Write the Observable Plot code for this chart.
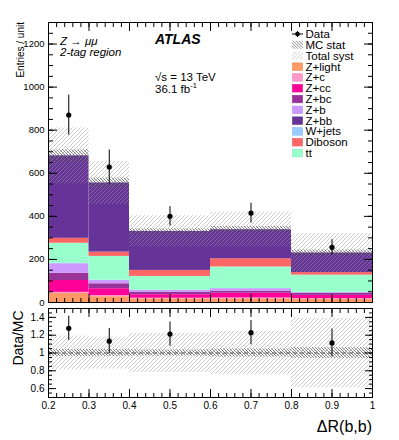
<!DOCTYPE html>
<html><head><meta charset="utf-8">
<script src="https://cdn.jsdelivr.net/npm/d3@7"></script>
<script src="https://cdn.jsdelivr.net/npm/@observablehq/plot@0.6"></script>
<style>
body{margin:0;background:#fff;}
#wrap{position:relative;width:399px;height:440px;font-family:"Liberation Sans",Arial,Helvetica,sans-serif;color:#000;overflow:hidden;}
#wrap svg{position:absolute;left:0;overflow:visible;}
</style></head><body>
<svg width="0" height="0" style="position:absolute">
  <defs>
    <pattern id="systHatch" patternUnits="userSpaceOnUse" width="4" height="4">
      <path d="M-1,1 l2,-2 M0,4 l4,-4 M3,5 l2,-2" stroke="#9a9a9a" stroke-opacity="0.5" stroke-width="1"/>
    </pattern>
    <pattern id="statHatch" patternUnits="userSpaceOnUse" width="3" height="3">
      <path d="M-1,2 l2,2 M0,0 l3,3 M2,-1 l2,2" stroke="#555" stroke-opacity="0.75" stroke-width="0.9"/>
    </pattern>
  </defs>
</svg>
<div id="wrap"></div>
<script>
// ---- data ----
const binLo = [0.2, 0.3, 0.4, 0.6, 0.8];
const binHi = [0.3, 0.4, 0.6, 0.8, 1.0];
// stack order bottom -> top
const stackOrder = ["Z+light", "Z+c", "Z+cc", "Z+bc", "Z+b", "W+jets", "tt", "Diboson", "Z+bb"];
const legendOrder = ["Z+light", "Z+c", "Z+cc", "Z+bc", "Z+b", "Z+bb", "W+jets", "Diboson", "tt"];
const compColors = {"Z+light": "#ff9966", "Z+c": "#ff99cc", "Z+cc": "#ff0099", "Z+bc": "#993399",
  "Z+b": "#cc99ff", "Z+bb": "#663399", "W+jets": "#99ccff", "Diboson": "#ff6666", "tt": "#99ffcc"};
const zLight  = [42, 27, 17, 17, 15];
const zC      = [5, 5, 3, 4, 3];
const zCC     = [55, 32, 16, 22, 15];
const zBC     = [34, 23, 12, 10, 10];
const zB      = [44, 15, 8, 11, 3];
const wJets   = [2, 2, 1, 1, 1];
const ttbar   = [93, 110, 64, 100, 80];
const diboson = [23, 20, 28, 38, 12];
const zBB     = [383, 321, 181, 135, 91];
const dataVal = [870, 629, 400, 415, 256];
const dataErr = [93, 79, 45, 46, 36];
const systFrac = [0.19, 0.18, 0.22, 0.24, 0.39];
const statFrac = [0.04, 0.04, 0.035, 0.045, 0.06];
const yTicksMain = [0, 200, 400, 600, 800, 1000, 1200];
const yTicksRatio = [0.6, 0.8, 1, 1.2, 1.4];
const xTicks = [0.2, 0.3, 0.4, 0.5, 0.6, 0.7, 0.8, 0.9, 1];

const series = {"Z+light": zLight, "Z+c": zC, "Z+cc": zCC, "Z+bc": zBC, "Z+b": zB,
  "W+jets": wJets, "tt": ttbar, "Diboson": diboson, "Z+bb": zBB};

// ---- derived tables ----
const stackRows = [];
const totals = binLo.map(() => 0);
binLo.forEach((lo, i) => {
  let acc = 0;
  for (const c of stackOrder) {
    const v = series[c][i];
    stackRows.push({x1: lo, x2: binHi[i], y1: acc, y2: acc + v, comp: c});
    acc += v;
  }
  totals[i] = acc;
});
const bins = binLo.map((lo, i) => ({
  x1: lo, x2: binHi[i], xc: (lo + binHi[i]) / 2, tot: totals[i],
  sLo: totals[i] * (1 - systFrac[i]), sHi: totals[i] * (1 + systFrac[i]),
  tLo: totals[i] * (1 - statFrac[i]), tHi: totals[i] * (1 + statFrac[i]),
  rsLo: 1 - systFrac[i], rsHi: 1 + systFrac[i], rtLo: 1 - statFrac[i], rtHi: 1 + statFrac[i],
  d: dataVal[i], dLo: dataVal[i] - dataErr[i], dHi: dataVal[i] + dataErr[i],
  r: dataVal[i] / totals[i], rLo: (dataVal[i] - dataErr[i]) / totals[i], rHi: (dataVal[i] + dataErr[i]) / totals[i]
}));

const xMinor = d3.range(10, 51).map(i => i / 50);
const yMinorMain = d3.range(0, 27).map(i => i * 50);
const yMinorRatio = d3.range(0, 21).map(i => 0.5 + i * 0.05);

const font = '"Liberation Sans", Arial, Helvetica, sans-serif';

function frameTicks(yMajor, yMinor, maj, min) {
  return [
    Plot.axisY({anchor: "left", ticks: yMajor, tickSize: -maj, fill: "none", label: null}),
    Plot.axisY({anchor: "left", ticks: yMinor, tickSize: -min, fill: "none", label: null}),
    Plot.axisY({anchor: "right", ticks: yMajor, tickSize: -maj, fill: "none", label: null}),
    Plot.axisY({anchor: "right", ticks: yMinor, tickSize: -min, fill: "none", label: null}),
    Plot.axisX({anchor: "bottom", ticks: xTicks, tickSize: -8, fill: "none", label: null}),
    Plot.axisX({anchor: "bottom", ticks: xMinor, tickSize: -4, fill: "none", label: null}),
    Plot.axisX({anchor: "top", ticks: xTicks, tickSize: -8, fill: "none", label: null}),
    Plot.axisX({anchor: "top", ticks: xMinor, tickSize: -4, fill: "none", label: null}),
    Plot.frame({stroke: "black", strokeWidth: 1})
  ];
}

const main = Plot.plot({
  width: 399, height: 305,
  marginLeft: 48, marginRight: 27, marginTop: 22, marginBottom: 3,
  style: {fontFamily: font, fontSize: "9.5px", background: "transparent"},
  x: {domain: [0.2, 1]},
  y: {domain: [0, 1300]},
  color: {domain: stackOrder, range: stackOrder.map(c => compColors[c])},
  marks: [
    Plot.rect(stackRows, {x1: "x1", x2: "x2", y1: "y1", y2: "y2", fill: "comp"}),
    Plot.rect(bins, {x1: "x1", x2: "x2", y1: "sLo", y2: "sHi", fill: "url(#systHatch)"}),
    Plot.rect(bins, {x1: "x1", x2: "x2", y1: "tLo", y2: "tHi", fill: "url(#statHatch)"}),
    Plot.ruleX(bins, {x: "xc", y1: "dLo", y2: "dHi", stroke: "black", strokeWidth: 1}),
    Plot.dot(bins, {x: "xc", y: "d", r: 2.6, fill: "black", stroke: "none"}),
    Plot.axisY({anchor: "left", ticks: yTicksMain, tickSize: 0, tickPadding: 4, label: null, tickFormat: d => String(d)}),
    ...frameTicks(yTicksMain, yMinorMain, 9, 5)
  ]
});

const ratio = Plot.plot({
  width: 399, height: 135,
  marginLeft: 48, marginRight: 27, marginTop: 3, marginBottom: 43,
  style: {fontFamily: font, fontSize: "10px", background: "transparent"},
  x: {domain: [0.2, 1]},
  y: {domain: [0.5, 1.5]},
  marks: [
    Plot.rect(bins, {x1: "x1", x2: "x2", y1: "rsLo", y2: "rsHi", fill: "url(#systHatch)"}),
    Plot.rect(bins, {x1: "x1", x2: "x2", y1: "rtLo", y2: "rtHi", fill: "url(#statHatch)"}),
    Plot.ruleY([1], {stroke: "#555", strokeDasharray: "4,3", strokeWidth: 1}),
    Plot.ruleX(bins, {x: "xc", y1: "rLo", y2: "rHi", stroke: "black", strokeWidth: 1}),
    Plot.dot(bins, {x: "xc", y: "r", r: 2.6, fill: "black", stroke: "none"}),
    Plot.axisY({anchor: "left", ticks: yTicksRatio, tickSize: 0, tickPadding: 4, label: null, tickFormat: d => String(d)}),
    Plot.axisX({anchor: "bottom", ticks: xTicks, tickSize: 0, tickPadding: 4, label: null, tickFormat: d => String(d)}),
    ...frameTicks(yTicksRatio, yMinorRatio, 8, 4)
  ]
});

const wrap = document.getElementById("wrap");
main.style.top = "0px";
ratio.style.top = "305px";
wrap.appendChild(main);
wrap.appendChild(ratio);

// ---- overlay: texts and legend ----
const ov = d3.select(wrap).append("svg")
  .attr("width", 399).attr("height", 440)
  .style("top", "0px").style("pointer-events", "none")
  .style("font-family", font);

ov.append("text").attr("transform", "translate(23.5,22) rotate(-90)")
  .attr("text-anchor", "end").attr("font-size", 10).text("Entries / unit");
ov.append("text").attr("transform", "translate(23,338) rotate(-90)")
  .attr("text-anchor", "middle").attr("font-size", 14).text("Data/MC");
ov.append("text").attr("x", 372).attr("y", 432).attr("text-anchor", "end")
  .attr("font-size", 16).text("ΔR(b,b)");

ov.append("text").attr("x", 60).attr("y", 45).attr("font-size", 11.5).attr("font-style", "italic").text("Z → μμ");
ov.append("text").attr("x", 60).attr("y", 56).attr("font-size", 11.5).attr("font-style", "italic").text("2-tag region");
ov.append("text").attr("x", 155).attr("y", 44).attr("font-size", 14).attr("font-style", "italic")
  .attr("font-weight", "bold").text("ATLAS");
ov.append("text").attr("x", 155).attr("y", 80.5).attr("font-size", 11.5).text("√s = 13 TeV");
const lumi = ov.append("text").attr("x", 155).attr("y", 93).attr("font-size", 11.5);
lumi.append("tspan").text("36.1 fb");
lumi.append("tspan").attr("font-size", 7.5).attr("dy", -5).text("-1");

const legendRows = [
  {label: "Data", kind: "data"},
  {label: "MC stat", kind: "stat"},
  {label: "Total syst", kind: "syst"},
  ...legendOrder.map(c => ({label: c, kind: "box", color: compColors[c]}))
];
const lg = ov.append("g");
legendRows.forEach((row, i) => {
  const cy = 34 + i * 10.8;
  const g = lg.append("g").attr("transform", `translate(0,${cy})`);
  if (row.kind === "data") {
    g.append("line").attr("x1", 292).attr("x2", 303).attr("y1", 0).attr("y2", 0).attr("stroke", "black");
    g.append("line").attr("x1", 297.5).attr("x2", 297.5).attr("y1", -3).attr("y2", 3).attr("stroke", "black");
    g.append("circle").attr("cx", 297.5).attr("cy", 0).attr("r", 2.3).attr("fill", "black");
  } else if (row.kind === "stat") {
    g.append("rect").attr("x", 292).attr("y", -4).attr("width", 11).attr("height", 8).attr("fill", "url(#statHatch)");
  } else if (row.kind === "syst") {
    g.append("rect").attr("x", 292).attr("y", -4).attr("width", 11).attr("height", 8).attr("fill", "url(#systHatch)");
  } else {
    g.append("rect").attr("x", 292.5).attr("y", -3.5).attr("width", 10).attr("height", 7.5)
      .attr("fill", row.color).attr("stroke", d3.color(row.color).darker(0.3)).attr("stroke-width", 0.6);
  }
  g.append("text").attr("x", 305.5).attr("y", 4.2).attr("font-size", 11.5).text(row.label);
});
</script>
</body></html>
